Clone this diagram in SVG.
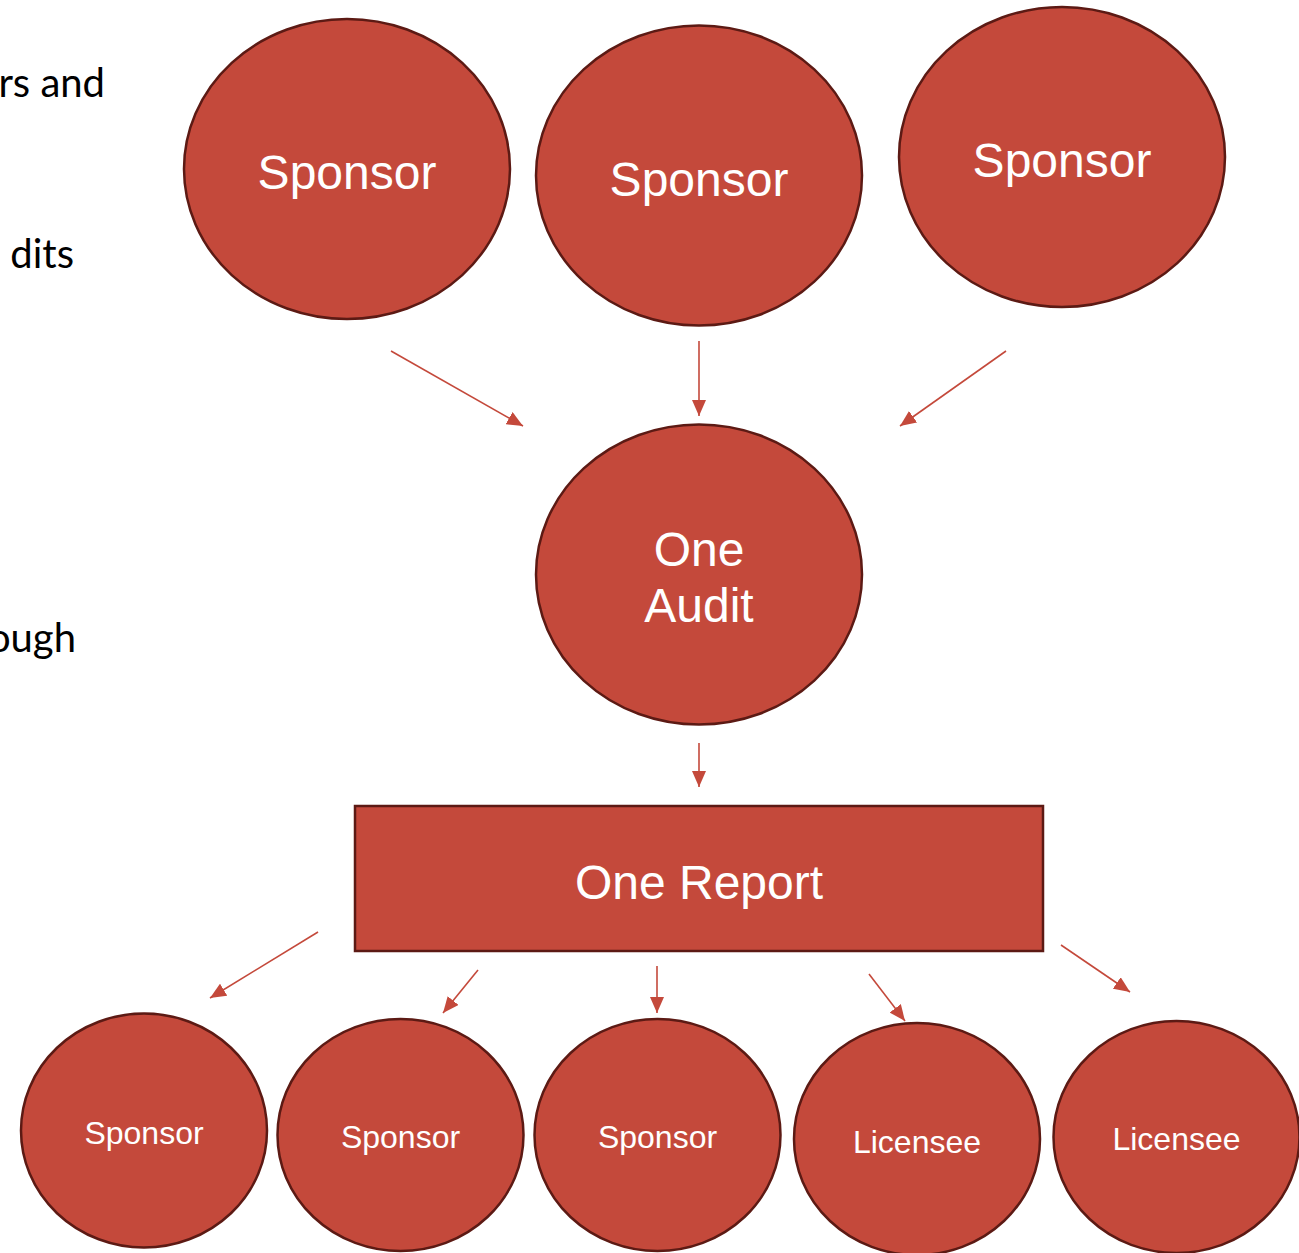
<svg xmlns="http://www.w3.org/2000/svg" width="1299" height="1253" viewBox="0 0 1299 1253">
<defs>
<style>
.node{fill:#C4493B;stroke:#5C1A14;stroke-width:2.5}
.lbl{fill:#FFFFFF;font-family:"Liberation Sans",Arial,sans-serif;text-anchor:middle}
.big{font-size:48px}
.small{font-size:32px}
.side{fill:#000000;font-family:Lato,"Open Sans",sans-serif;font-size:40px;text-anchor:end}
</style>
<marker id="arr" viewBox="0 0 16 14" refX="16" refY="7" markerWidth="16" markerHeight="14" markerUnits="userSpaceOnUse" orient="auto">
<path d="M0,0 L16,7 L0,14 Z" fill="#C4493B"/>
</marker>
</defs>
<rect width="1299" height="1253" fill="#FFFFFF"/>
<g id="side-text">
<text class="side" x="105" y="97">rs and</text>
<text class="side" x="74" y="268">dits</text>
<text class="side" x="76" y="652">ough</text>
</g>
<g id="connectors" stroke="#C4493B" stroke-width="1.6" fill="none">
<line x1="391" y1="351" x2="523" y2="426" marker-end="url(#arr)"/>
<line x1="699" y1="341" x2="699" y2="416" marker-end="url(#arr)"/>
<line x1="1006" y1="351" x2="900" y2="426" marker-end="url(#arr)"/>
<line x1="699" y1="743" x2="699" y2="787" marker-end="url(#arr)"/>
<line x1="318" y1="932" x2="210" y2="998" marker-end="url(#arr)"/>
<line x1="478" y1="970" x2="443" y2="1013" marker-end="url(#arr)"/>
<line x1="657" y1="966" x2="657" y2="1013" marker-end="url(#arr)"/>
<line x1="869" y1="974" x2="905" y2="1021" marker-end="url(#arr)"/>
<line x1="1061" y1="945" x2="1130" y2="992" marker-end="url(#arr)"/>
</g>
<g id="sponsor-top-1"><ellipse class="node" cx="347" cy="169" rx="163" ry="150"/><text class="lbl big" x="347" y="189">Sponsor</text></g>
<g id="sponsor-top-2"><ellipse class="node" cx="699" cy="175.5" rx="163" ry="150"/><text class="lbl big" x="699" y="196">Sponsor</text></g>
<g id="sponsor-top-3"><ellipse class="node" cx="1062" cy="157" rx="163" ry="150"/><text class="lbl big" x="1062" y="177">Sponsor</text></g>
<g id="one-audit"><ellipse class="node" cx="699" cy="574.5" rx="163" ry="150"/><text class="lbl big" x="699" y="566">One</text><text class="lbl big" x="699" y="622">Audit</text></g>
<g id="one-report"><rect class="node" x="355" y="806" width="688" height="145"/><text class="lbl big" x="699" y="899">One Report</text></g>
<g id="sponsor-bottom-1"><ellipse class="node" cx="144" cy="1130.5" rx="123" ry="117"/><text class="lbl small" x="144" y="1144">Sponsor</text></g>
<g id="sponsor-bottom-2"><ellipse class="node" cx="400.5" cy="1135" rx="123" ry="116"/><text class="lbl small" x="400.5" y="1148">Sponsor</text></g>
<g id="sponsor-bottom-3"><ellipse class="node" cx="657.5" cy="1135" rx="123" ry="116"/><text class="lbl small" x="657.5" y="1148">Sponsor</text></g>
<g id="licensee-1"><ellipse class="node" cx="917" cy="1139" rx="123" ry="116"/><text class="lbl small" x="917" y="1153">Licensee</text></g>
<g id="licensee-2"><ellipse class="node" cx="1176.5" cy="1137" rx="123" ry="116"/><text class="lbl small" x="1176.5" y="1150">Licensee</text></g>
</svg>
